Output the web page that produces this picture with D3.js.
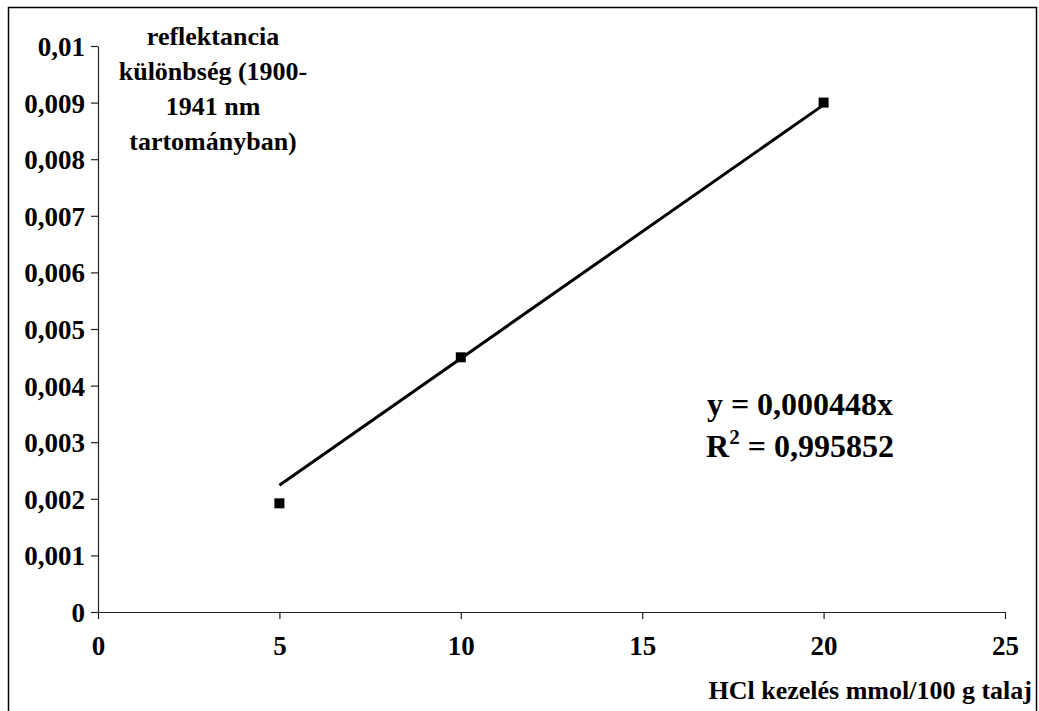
<!DOCTYPE html>
<html>
<head>
<meta charset="utf-8">
<script src="https://cdnjs.cloudflare.com/ajax/libs/d3/7.8.5/d3.min.js"></script>
<style>
body { margin: 0; background: #fff; }
svg text { font-family: "Liberation Serif", "Times New Roman", serif; font-weight: bold; fill: #000; }
</style>
</head>
<body>
<svg width="1039" height="711"></svg>
<script>
var xs = [5, 10, 20];
var ys = [0.00192, 0.0045, 0.009];
var slope = 0.000448;
var xTicks = [0, 5, 10, 15, 20, 25];
var yTicks = [0, 0.001, 0.002, 0.003, 0.004, 0.005, 0.006, 0.007, 0.008, 0.009, 0.01];
var yTitle = ["reflektancia", "különbség (1900-", "1941 nm", "tartományban)"];
var xTitle = "HCl kezelés mmol/100 g talaj";
var eqText = ["y = 0,000448x", "R", "2", " = 0,995852"];

var svg = d3.select("svg");
var fmt = function(d) { return d === 0 ? "0" : String(+d.toFixed(3)).replace(".", ","); };

// outer frame
svg.append("path")
	.attr("d", "M8.5,711 V7.5 H1036.5 V711")
	.attr("fill", "none").attr("stroke", "#000").attr("stroke-width", 1.5);

var x = d3.scaleLinear().domain([0, 25]).range([98, 1005]);
var y = d3.scaleLinear().domain([0, 0.01]).range([612, 46]);

var gx = svg.append("g").attr("transform", "translate(0,612)")
	.call(d3.axisBottom(x).tickValues(xTicks).tickSize(7).tickSizeOuter(0).tickFormat(fmt));
var gy = svg.append("g").attr("transform", "translate(98,0)")
	.call(d3.axisLeft(y).tickValues(yTicks).tickSize(7).tickSizeOuter(0).tickFormat(fmt));

[gx, gy].forEach(function(g) {
	g.attr("font-size", null).attr("font-family", null);
	g.selectAll("path, line").attr("stroke", "#222").attr("stroke-width", 1.2);
	g.selectAll("text").style("font-size", "27px").attr("fill", "#000");
});
gx.selectAll("text").attr("dy", 0).attr("y", 43);
gy.selectAll("text").attr("dy", "0.35em").attr("x", -13);

// trend line
svg.append("line")
	.attr("x1", x(5)).attr("y1", y(slope * 5))
	.attr("x2", x(20)).attr("y2", y(slope * 20))
	.attr("stroke", "#000").attr("stroke-width", 3);

// points
svg.selectAll(".pt").data(xs).enter().append("rect")
	.attr("class", "pt")
	.attr("x", function(d) { return x(d) - 5; })
	.attr("y", function(d, i) { return y(ys[i]) - 5; })
	.attr("width", 10).attr("height", 10)
	.attr("fill", "#000");

// y title
svg.append("g").selectAll("text").data(yTitle).enter().append("text")
	.attr("x", 213).attr("y", function(d, i) { return 45 + i * 35; })
	.attr("text-anchor", "middle").style("font-size", "26px")
	.text(function(d) { return d; });

// x title
svg.append("text").attr("x", 1032).attr("y", 699)
	.attr("text-anchor", "end").style("font-size", "26px").text(xTitle);

// equation
svg.append("text").attr("x", 800).attr("y", 415)
	.attr("text-anchor", "middle").style("font-size", "32px").text(eqText[0]);
var r2 = svg.append("text").attr("x", 800).attr("y", 457)
	.attr("text-anchor", "middle").style("font-size", "32px");
r2.append("tspan").text(eqText[1]);
r2.append("tspan").attr("dy", -13).style("font-size", "21px").text(eqText[2]);
r2.append("tspan").attr("dy", 13).text(eqText[3]);
</script>
</body>
</html>
